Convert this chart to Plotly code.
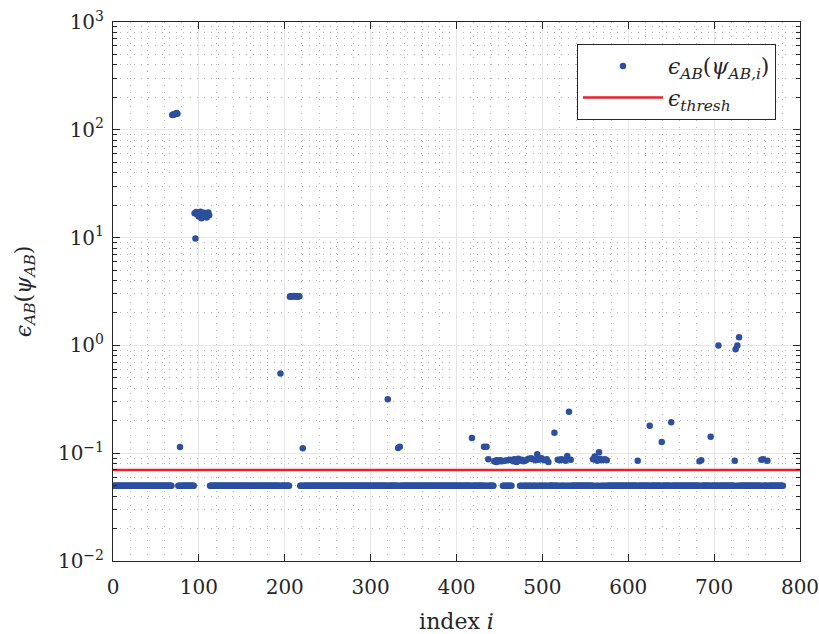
import plotly.graph_objects as go

# ---- data ----
n_points = 780
baseline_value = 0.05
threshold = 0.07

outlier_idx = [69, 70, 71, 72, 73, 74, 75,
               78,
               95, 96, 97, 98, 99, 100, 101, 102, 103, 104, 105, 106, 107, 108, 109, 110, 111, 112,
               195,
               206, 207, 208, 209, 210, 211, 212, 213, 214, 215, 216, 217,
               221, 320, 332, 334,
               418, 432, 435, 437,
               444, 445, 446, 447, 448, 449, 450, 451, 452, 453,
               456, 459, 462,
               465, 466, 467, 468, 469, 470, 471, 472, 473,
               476, 478, 481, 484, 487, 489, 492, 494, 496, 499, 502, 505, 507,
               514, 518, 520, 522, 525, 527, 529, 531, 533,
               559, 561, 562, 564, 566, 567, 569, 571, 573, 575,
               611, 625, 639, 650, 683, 685, 696, 705,
               724, 725, 727, 729, 755, 757, 762]
outlier_val = [137, 139, 138, 140, 141, 143, 141,
               0.114,
               16.8, 9.8, 17.3, 16.4, 17.0, 15.7, 16.3, 17.4, 15.1, 16.6, 15.6, 17.0, 16.8, 15.9, 15.4, 16.4, 17.1, 16.1,
               0.55,
               2.83, 2.85, 2.86, 2.84, 2.85, 2.87, 2.84, 2.86, 2.85, 2.83, 2.86, 2.85,
               0.111, 0.316, 0.112, 0.115,
               0.138, 0.115, 0.115, 0.088,
               0.084, 0.085, 0.083, 0.086, 0.084, 0.085, 0.084, 0.086, 0.085, 0.084,
               0.085, 0.086, 0.087,
               0.086, 0.084, 0.088, 0.085, 0.087, 0.083, 0.086, 0.089, 0.085,
               0.087, 0.084, 0.086, 0.089, 0.090, 0.088, 0.086, 0.098, 0.087, 0.090, 0.086, 0.088, 0.083,
               0.155, 0.087, 0.086, 0.088, 0.087, 0.085, 0.094, 0.242, 0.087,
               0.088, 0.093, 0.087, 0.085, 0.102, 0.089, 0.086, 0.087, 0.088, 0.086,
               0.085, 0.18, 0.127, 0.194, 0.084, 0.086, 0.142, 1.0,
               0.085, 0.92, 1.0, 1.19, 0.087, 0.088, 0.085]

x_ticks = [0, 100, 200, 300, 400, 500, 600, 700, 800]
y_tick_vals = [1e-2, 1e-1, 1e0, 1e1, 1e2, 1e3]
y_tick_text = ["10<sup>−2</sup>", "10<sup>−1</sup>", "10<sup>0</sup>",
               "10<sup>1</sup>", "10<sup>2</sup>", "10<sup>3</sup>"]

# build the series: every index has baseline value unless it's an outlier
override = dict(zip(outlier_idx, outlier_val))
xs = list(range(1, n_points + 1))
ys = [override.get(i, baseline_value) for i in xs]

minor_y = [m * 10.0 ** e for e in range(-2, 3) for m in range(2, 10)]

FONT = "DejaVu Serif"
BLUE = "#2c4f9e"
RED = "#e8212b"
INK = "#262626"

fig = go.Figure()
fig.add_trace(go.Scatter(
    x=xs, y=ys, mode="markers",
    marker=dict(color=BLUE, size=6.5, line=dict(width=0)),
    name="<i>ϵ</i><sub><i>AB</i></sub>(<i>ψ</i><sub><i>AB,i</i></sub>)",
))
fig.add_trace(go.Scatter(
    x=[x_ticks[0], x_ticks[-1]], y=[threshold, threshold], mode="lines",
    line=dict(color=RED, width=2.5),
    name="<i>ϵ</i><sub><i>thresh</i></sub>",
))

axis_common = dict(
    showline=True, linecolor=INK, linewidth=1, mirror="allticks",
    ticks="inside", ticklen=7, tickcolor=INK,
    showgrid=True, gridcolor="#e6e6e6", gridwidth=1,
    zeroline=False, automargin=False, ticklabeloverflow="allow",
    tickfont=dict(family=FONT, size=20, color=INK),
)

fig.update_xaxes(
    **axis_common,
    range=[0, 800], tickmode="array", tickvals=x_ticks,
    ticktext=[str(v) for v in x_ticks], ticklabelstandoff=8,
    minor=dict(dtick=20, tick0=0, showgrid=True, griddash="1px,6px",
               gridcolor="#b5b5b5", gridwidth=1, ticks=""),
    title=dict(text="index <i>i</i>", font=dict(family=FONT, size=22, color=INK),
               standoff=22),
)
fig.update_yaxes(
    **axis_common,
    type="log", range=[-2, 3], tickmode="array", tickvals=y_tick_vals,
    ticktext=y_tick_text, ticklabelstandoff=4,
    minor=dict(tickmode="array", tickvals=minor_y, showgrid=True, griddash="1px,6px",
               gridcolor="#b5b5b5", gridwidth=1, ticks="inside", ticklen=4,
               tickcolor=INK),
    title=dict(text="<i>ϵ</i><sub><i>AB</i></sub>(<i>ψ</i><sub><i>AB</i></sub>)",
               font=dict(family=FONT, size=22, color=INK), standoff=20),
)

fig.update_layout(
    width=819, height=634,
    margin=dict(l=113, r=19, t=22, b=73),
    paper_bgcolor="white", plot_bgcolor="white",
    font=dict(family=FONT, color=INK),
    showlegend=True,
    legend=dict(
        x=0.965, y=0.959, xanchor="right", yanchor="top",
        bgcolor="white", bordercolor=INK, borderwidth=1,
        font=dict(family=FONT, size=22, color=INK),
        itemwidth=80, tracegroupgap=0,
    ),
)

fig.write_html("out.html")
